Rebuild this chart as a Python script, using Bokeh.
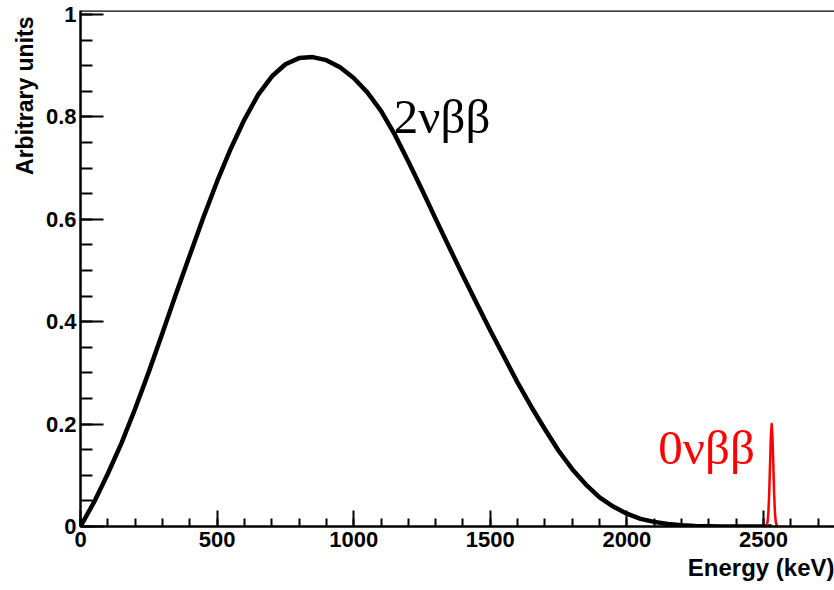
from bokeh.plotting import figure
from bokeh.models import FixedTicker, Range1d, Span, ColumnDataSource, Title
from bokeh.core.properties import value
from bokeh.embed import file_html
from bokeh.resources import INLINE

# ---- data ----
energy_2nu = [0, 50, 100, 150, 200, 250, 300, 350, 400, 450, 500, 550, 600, 650, 700,
              750, 800, 850, 900, 950, 1000, 1050, 1100, 1150, 1200, 1250, 1300, 1350,
              1400, 1450, 1500, 1550, 1600, 1650, 1700, 1750, 1800, 1850, 1900, 1950,
              2000, 2050, 2100, 2150, 2200, 2250, 2300, 2350, 2400, 2450, 2500, 2530]
counts_2nu = [0.000, 0.048, 0.103, 0.163, 0.230, 0.302, 0.378, 0.455, 0.530, 0.604,
              0.674, 0.738, 0.795, 0.843, 0.879, 0.903, 0.915, 0.917, 0.911, 0.897,
              0.876, 0.848, 0.812, 0.766, 0.713, 0.658, 0.601, 0.545, 0.490, 0.436,
              0.383, 0.332, 0.281, 0.234, 0.190, 0.148, 0.112, 0.082, 0.057, 0.039,
              0.025, 0.015, 0.009, 0.005, 0.0025, 0.0012, 0.0005, 0.0002, 0.00005,
              0.0, 0.0, 0.0]

energy_0nu = [2510, 2515, 2518, 2521, 2524, 2527, 2530, 2533, 2536, 2539, 2542, 2545, 2550]
counts_0nu = [0.0, 0.009, 0.027, 0.065, 0.120, 0.175, 0.200, 0.175, 0.120, 0.065, 0.027, 0.009, 0.0]

x_major_ticks = [0, 500, 1000, 1500, 2000, 2500]
x_minor_ticks = list(range(0, 2800, 100))
y_major_ticks = [0, 0.2, 0.4, 0.6, 0.8, 1]
y_minor_ticks = [0.05 * i for i in range(21)]
y_label_overrides = {0: "0", 1: "1"}

x_title = "Energy (keV)"
y_title = "Arbitrary units"

label_2nu = ("2νββ", 1147, 0.80)
label_0nu = ("0νββ", 2115, 0.154)

x_end = 2760
y_end = 1.008

# ---- figure ----
p = figure(width=834, height=590, x_range=Range1d(0, x_end), y_range=Range1d(0, y_end),
           output_backend="svg", toolbar_location=None,
           min_border_left=80, min_border_right=0, min_border_top=10, min_border_bottom=64)
p.background_fill_color = "white"
p.border_fill_color = "white"
p.outline_line_color = None
p.xgrid.visible = False
p.ygrid.visible = False

xa = p.xaxis[0]
xa.ticker = FixedTicker(ticks=x_major_ticks, minor_ticks=x_minor_ticks)
xa.major_tick_in = 16
xa.major_tick_out = 0
xa.minor_tick_in = 8
xa.minor_tick_out = 0
xa.major_tick_line_width = 2
xa.minor_tick_line_width = 2
xa.axis_line_width = 2.5
xa.major_label_text_font = "Liberation Sans"
xa.major_label_text_font_style = "bold"
xa.major_label_text_font_size = "22px"
xa.major_label_text_color = "black"
xa.major_label_standoff = 5

ya = p.yaxis[0]
ya.ticker = FixedTicker(ticks=y_major_ticks, minor_ticks=y_minor_ticks)
ya.major_label_overrides = y_label_overrides
ya.major_tick_in = 23
ya.major_tick_out = 0
ya.minor_tick_in = 12
ya.minor_tick_out = 0
ya.major_tick_line_width = 2
ya.minor_tick_line_width = 2
ya.axis_line_width = 2.5
ya.major_label_text_font = "Liberation Sans"
ya.major_label_text_font_style = "bold"
ya.major_label_text_font_size = "22px"
ya.major_label_text_color = "black"
ya.major_label_standoff = 4

# axis titles placed at the axis ends (ROOT style)
p.add_layout(Title(text=x_title, align="right", text_font="Liberation Sans",
                   text_font_style="bold", text_font_size="24px", text_color="black",
                   standoff=5, offset=0), "below")
p.add_layout(Title(text=y_title, align="right", text_font="Liberation Sans",
                   text_font_style="bold", text_font_size="23px", text_color="black",
                   standoff=10, offset=6), "left")

p.add_layout(Span(location=y_end, dimension="width", line_color="black", line_width=2.5))

p.line(energy_2nu, counts_2nu, line_color="black", line_width=4.5, line_join="round")
p.line(energy_0nu, counts_0nu, line_color="red", line_width=2.5, line_join="round")

src = ColumnDataSource(dict(x=[label_2nu[1], label_0nu[1]], y=[label_2nu[2], label_0nu[2]],
                            t=[label_2nu[0], label_0nu[0]], c=["black", "red"]))
p.text(x="x", y="y", text="t", text_color="c", source=src,
       text_font=value("Liberation Serif"), text_font_size="49px",
       text_align="left", text_baseline="alphabetic")

open("out.html", "w").write(file_html(p, INLINE))
